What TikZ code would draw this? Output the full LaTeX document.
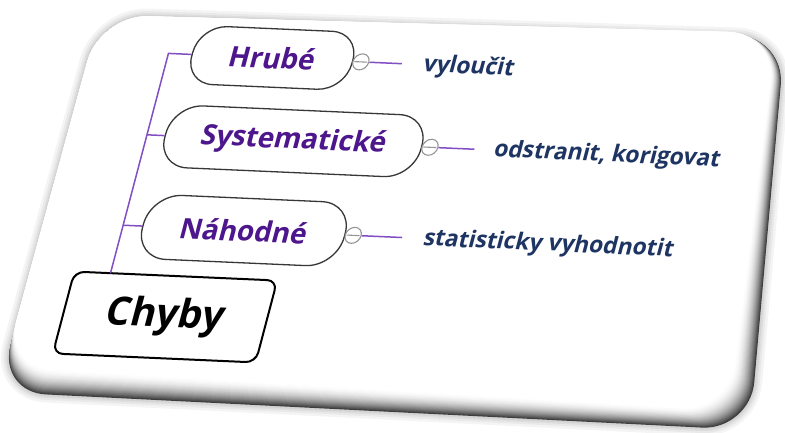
\documentclass[tikz,border=0pt]{standalone}
\usepackage{fontspec}
\setmainfont{Open Sans}
\usetikzlibrary{calc}
\definecolor{branchtxt}{RGB}{78,22,140}
\definecolor{leaftxt}{RGB}{30,52,98}
\definecolor{connclr}{RGB}{130,78,196}
\definecolor{boxline}{RGB}{55,55,55}
\definecolor{btnclr}{RGB}{150,150,150}
\tikzset{
  rootbox/.style={draw=black, line width=2pt, fill=white, rounded corners=10pt,
    inner sep=0pt, minimum width=205pt, minimum height=82pt,
    font=\fontsize{39}{44}\selectfont\bfseries, text=black},
  branchbox/.style={draw=boxline, line width=1.3pt, fill=white, inner sep=0pt,
    font=\fontsize{28}{32}\selectfont\bfseries, text=branchtxt},
  leaflabel/.style={anchor=base west, inner sep=0pt,
    font=\fontsize{23}{26}\selectfont\bfseries, text=leaftxt},
  conn/.style={draw=connclr, line width=1.5pt},
  btn/.style={circle, draw=btnclr, line width=1.1pt, fill=white, inner sep=0pt,
    minimum size=16pt},
  btnbar/.style={draw=btnclr, line width=1.1pt, shorten <=2pt, shorten >=2pt},
}
\begin{document}
\begin{tikzpicture}[x=1pt,y=-1pt]
\useasboundingbox (0,0) rectangle (785,432);
\fill[white] (0,0) rectangle (785,432);

% card geometry: top face and outer rim of the slab
\coordinate (fTL) at (100,15);
\coordinate (fTR) at (776,33);
\coordinate (fBR) at (728,410);
\coordinate (fBL) at (4,366);
\coordinate (oTL) at (100,15);
\coordinate (oTR) at (785,37);
\coordinate (oBR) at (750,430);
\coordinate (oBL) at (-2,392);

% soft drop shadow around the slab
\foreach \w in {16,11,7,4} {
  \draw[black, opacity=0.045, line width=\w pt, rounded corners=48pt, shift={(2,3)}]
    ($(oTL)!0.5!(oBL)$) -- (oTL) -- (oTR) -- (oBR) -- (oBL) -- cycle;
}

% bevelled edge: grey ramp from the rim in to the white face
\foreach \i in {24,...,0} {
  \pgfmathsetmacro\t{\i/24}
  \pgfmathsetmacro\g{76*\t*\t}
  \coordinate (a) at ($(fTL)!\t!(oTL)$);
  \coordinate (b) at ($(fTR)!\t!(oTR)$);
  \coordinate (c) at ($(fBR)!\t!(oBR)$);
  \coordinate (d) at ($(fBL)!\t!(oBL)$);
  \fill[black!\g, rounded corners=48pt]
    ($(a)!0.5!(d)$) -- (a) -- (b) -- (c) -- (d) -- cycle;
}

% mind map on the tilted card
\begin{scope}[shift={(165,317)}, xslant=0.22, rotate=-2.5, transform shape]
  \node[rootbox] (chyby) at (0,0) {Chyby};

  \node[branchbox, rounded corners=28pt, minimum width=162pt, minimum height=58pt]
    (hrube) at (39,-261) {Hrubé};
  \node[branchbox, rounded corners=30pt, minimum width=259pt, minimum height=62pt]
    (syst) at (82,-179.5) {Systematické};
  \node[branchbox, rounded corners=31pt, minimum width=204pt, minimum height=64pt]
    (nahod) at (56,-89) {Náhodné};

  % trunk and branches
  \coordinate (t0) at (-66,-41);
  \coordinate (t1) at (-66,-89);
  \coordinate (t2) at (-66,-179.5);
  \coordinate (t3) at (-66,-261);
  \draw[conn] (t0) -- (t3) -- (hrube.west);
  \draw[conn] (t2) -- (syst.west);
  \draw[conn] (t1) -- (nahod.west);

  % collapse buttons and leaf connectors
  \node[btn] (b1) at (128.5,-261) {};
  \node[btn] (b2) at (220,-179.5) {};
  \node[btn] (b3) at (166.5,-89) {};
  \draw[btnbar] (b1.west) -- (b1.east);
  \draw[btnbar] (b2.west) -- (b2.east);
  \draw[btnbar] (b3.west) -- (b3.east);

  \coordinate (e1) at (170,-261);
  \coordinate (e2) at (265,-179.5);
  \coordinate (e3) at (216,-89);
  \draw[conn] (b1.east) -- (e1);
  \draw[conn] (b2.east) -- (e2);
  \draw[conn] (b3.east) -- (e3);

  \node[leaflabel] (l1) at (192,-254) {vyloučit};
  \node[leaflabel] (l2) at (285,-173) {odstranit, korigovat};
  \node[leaflabel] (l3) at (238,-82) {statisticky vyhodnotit};
\end{scope}
\end{tikzpicture}
\end{document}
